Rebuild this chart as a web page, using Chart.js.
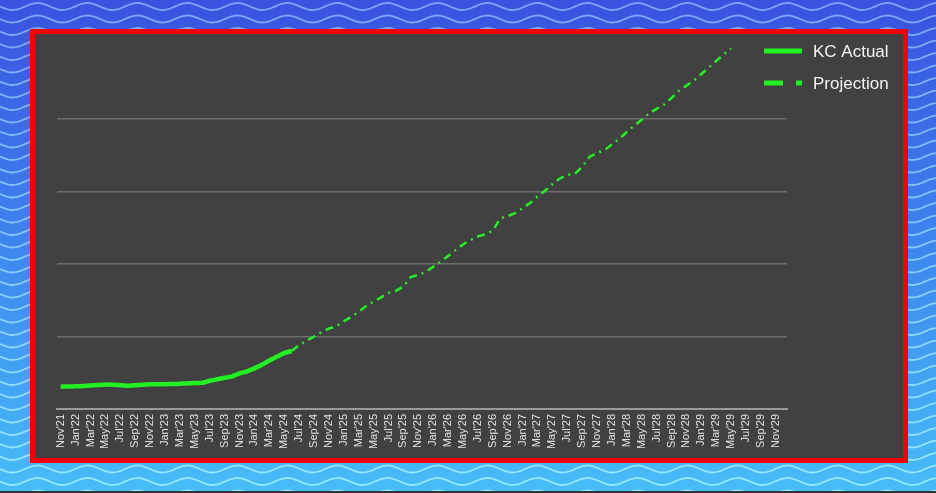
<!DOCTYPE html>
<html>
<head>
<meta charset="utf-8">
<script src="https://cdn.jsdelivr.net/npm/chart.js@4.4.1/dist/chart.umd.min.js"></script>
<style>
  body { margin: 0; background: #3e86ee; }
  canvas { display: block; }
</style>
</head>
<body>
<canvas id="kcChart" width="936" height="493"></canvas>
<script>
/* =========================================
   DATA
   ========================================= */
const months = [
  "Nov'21","Dec'21",
  "Jan'22","Feb'22","Mar'22","Apr'22","May'22","Jun'22","Jul'22","Aug'22","Sep'22","Oct'22","Nov'22","Dec'22",
  "Jan'23","Feb'23","Mar'23","Apr'23","May'23","Jun'23","Jul'23","Aug'23","Sep'23","Oct'23","Nov'23","Dec'23",
  "Jan'24","Feb'24","Mar'24","Apr'24","May'24","Jun'24","Jul'24","Aug'24","Sep'24","Oct'24","Nov'24","Dec'24",
  "Jan'25","Feb'25","Mar'25","Apr'25","May'25","Jun'25","Jul'25","Aug'25","Sep'25","Oct'25","Nov'25","Dec'25",
  "Jan'26","Feb'26","Mar'26","Apr'26","May'26","Jun'26","Jul'26","Aug'26","Sep'26","Oct'26","Nov'26","Dec'26",
  "Jan'27","Feb'27","Mar'27","Apr'27","May'27","Jun'27","Jul'27","Aug'27","Sep'27","Oct'27","Nov'27","Dec'27",
  "Jan'28","Feb'28","Mar'28","Apr'28","May'28","Jun'28","Jul'28","Aug'28","Sep'28","Oct'28","Nov'28","Dec'28",
  "Jan'29","Feb'29","Mar'29","Apr'29","May'29","Jun'29","Jul'29","Aug'29","Sep'29","Oct'29","Nov'29","Dec'29"
];

// KC Actual: Nov'21 .. Jun'24
const actualValues = [
  30.8, 31, 31.3, 31.8, 32.3, 33, 33.8, 33.5, 32.8, 32.2,
  32.8, 33.5, 34, 34.2, 34.3, 34.5, 34.8, 35.3, 35.8, 36,
  39, 41, 43, 45, 49, 52, 56, 61, 67, 72,
  77, 80
];

// Projection: Jun'24 .. May'29
const projectionStart = 31;
const projectionValues = [
  80, 88, 94, 100, 106, 111, 114, 121, 127, 134,
  142, 148, 154, 160, 163, 169, 182, 185, 189, 196,
  203, 211, 219, 227, 233, 238, 241, 246, 263, 266,
  270, 277, 284, 293, 301, 310, 318, 323, 324, 334,
  348, 353, 357, 365, 373, 382, 391, 399, 408, 414,
  420, 429, 439, 446, 453, 462, 471, 480, 489, 497
];

const yTicks = [0, 100, 200, 300, 400, 500];
const seriesNames = ['KC Actual', 'Projection'];

const GREEN = '#22f022';

/* =========================================
   HELPERS
   ========================================= */
function padSeries(values, start) {
  const out = new Array(months.length).fill(null);
  values.forEach((v, i) => { out[start + i] = v; });
  return out;
}

// background: wavy blue frame, red box, dark panel
const framePlugin = {
  id: 'frame',
  beforeDraw(chart) {
    const ctx = chart.ctx;
    const w = chart.width, h = chart.height;
    ctx.save();

    let bg = ctx.createLinearGradient(0, 0, 0, h);
    bg.addColorStop(0, '#3a52df');
    bg.addColorStop(0.5, '#3d86ee');
    bg.addColorStop(1, '#47bdf7');
    ctx.fillStyle = bg;
    ctx.fillRect(0, 0, w, h);

    let waveCol = ctx.createLinearGradient(0, 0, 0, h);
    waveCol.addColorStop(0, 'rgba(150,200,255,0.7)');
    waveCol.addColorStop(1, 'rgba(170,245,255,0.8)');
    ctx.strokeStyle = waveCol;
    ctx.lineWidth = 1.8;
    for (let y0 = -6; y0 < h + 10; y0 += 12.5) {
      ctx.beginPath();
      for (let x = 0; x <= w; x += 2) {
        const y = y0 + 3.5 * Math.sin(2 * Math.PI * x / 50);
        if (x === 0) ctx.moveTo(x, y); else ctx.lineTo(x, y);
      }
      ctx.stroke();
    }

    ctx.fillStyle = '#333';
    ctx.fillRect(0, h - 2, w, 2);

    ctx.fillStyle = '#414141';
    ctx.fillRect(33, 32, 872, 428);
    ctx.strokeStyle = '#f50000';
    ctx.lineWidth = 5;
    ctx.strokeRect(32.5, 31.5, 873, 429);
    ctx.restore();
  },
  afterDraw(chart) {
    // legend drawn over the top right of the plot
    const ctx = chart.ctx;
    ctx.save();
    chart.data.datasets.forEach((ds, i) => {
      const y = 51 + i * 32;
      ctx.strokeStyle = ds.borderColor;
      ctx.lineWidth = 5;
      ctx.lineCap = 'butt';
      ctx.setLineDash(ds.borderDash && ds.borderDash.length ? [19, 13, 6, 100] : []);
      ctx.beginPath();
      ctx.moveTo(764, y);
      ctx.lineTo(802, y);
      ctx.stroke();
      ctx.setLineDash([]);
      ctx.fillStyle = '#f2f2f2';
      ctx.font = '17px "Liberation Sans", Arial, sans-serif';
      ctx.textBaseline = 'middle';
      ctx.fillText(ds.label, 813, y + 1);
    });
    ctx.restore();
  }
};

/* =========================================
   CHART
   ========================================= */
function initChart() {
  const ctx = document.getElementById('kcChart').getContext('2d');

  new Chart(ctx, {
    type: 'line',
    data: {
      labels: months,
      datasets: [
        {
          label: seriesNames[0],
          data: padSeries(actualValues, 0),
          borderColor: GREEN,
          borderWidth: 4.5,
          borderDash: [],
          pointRadius: 0,
          tension: 0.2,
          fill: false
        },
        {
          label: seriesNames[1],
          data: padSeries(projectionValues, projectionStart),
          borderColor: GREEN,
          borderWidth: 2.5,
          borderDash: [8, 5, 2, 5],
          borderCapStyle: 'butt',
          pointRadius: 0,
          tension: 0,
          fill: false
        }
      ]
    },
    options: {
      responsive: false,
      animation: false,
      layout: { padding: { left: 57, right: 149, top: 46.5, bottom: 34 } },
      plugins: {
        legend: { display: false },
        tooltip: { enabled: false }
      },
      scales: {
        x: {
          type: 'category',
          offset: true,
          grid: { display: false, drawTicks: false },
          border: { color: '#9a9a9a', width: 2 },
          ticks: {
            autoSkip: false,
            minRotation: 90,
            maxRotation: 90,
            padding: 5,
            color: '#e2e2e2',
            font: { family: '"Liberation Sans", Arial, sans-serif', size: 11 },
            callback: function(value, index) {
              return index % 2 === 0 ? this.getLabelForValue(value) : '';
            }
          },
          afterFit: (scale) => { scale.height = 50; }
        },
        y: {
          min: yTicks[0],
          max: yTicks[yTicks.length - 1],
          afterBuildTicks: (scale) => { scale.ticks = yTicks.map(v => ({ value: v })); },
          ticks: { display: false },
          border: { display: false },
          grid: {
            drawTicks: false,
            lineWidth: 1.5,
            color: (c) => (c.tick && (c.tick.value === 0 || c.tick.value === 500)) ? 'rgba(0,0,0,0)' : '#6c6c6c'
          },
          afterFit: (scale) => { scale.width = 0; }
        }
      }
    },
    plugins: [framePlugin]
  });
}

window.onload = function() {
  initChart();
};
</script>
</body>
</html>
